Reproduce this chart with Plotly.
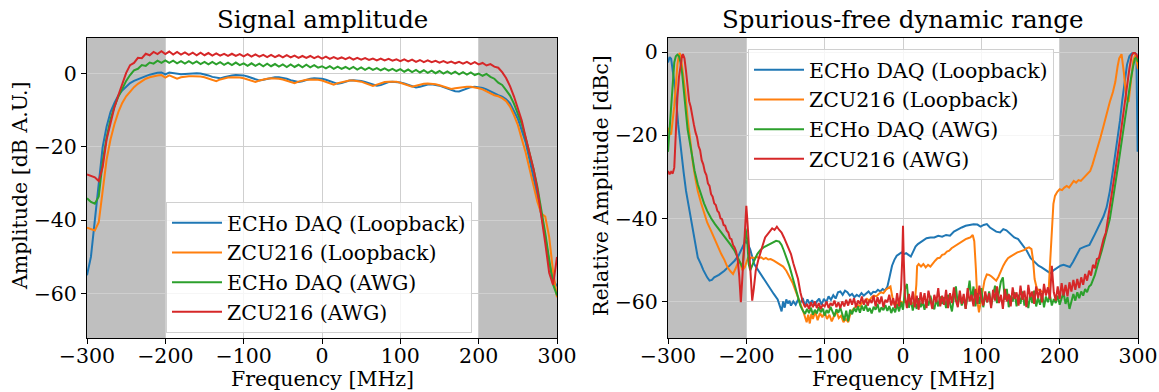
import plotly.graph_objects as go

# ---------------- Signal amplitude (left) ----------------
freq_amp = [
    -300, -295, -290, -285, -280, -275, -270, -265, -260, -255, -250, -245, -240, -235, -230, -225, -220, -215, -210, -205,
    -200, -195, -190, -185, -180, -175, -170, -165, -160, -155, -150, -145, -140, -135, -130, -125, -120, -115, -110, -105,
    -100, -95, -90, -85, -80, -75, -70, -65, -60, -55, -50, -45, -40, -35, -30, -25, -20, -15, -10, -5,
    0, 5, 10, 15, 20, 25, 30, 35, 40, 45, 50, 55, 60, 65, 70, 75, 80, 85, 90, 95,
    100, 105, 110, 115, 120, 125, 130, 135, 140, 145, 150, 155, 160, 165, 170, 175, 180, 185, 190, 195,
    200, 205, 210, 215, 220, 225, 230, 235, 240, 245, 250, 255, 260, 265, 270, 275, 280, 285, 290, 295,
    300,
]

amp_echo_loop = [
    -55, -50, -40, -29, -20, -14.5, -10.5, -8, -6, -4.6, -3.5, -2.6, -2.0, -1.5, -1.1, -0.7, -0.3, 0.0, 0.2, 0.3,
    -0.2, 0.3, 0.1, -0.1, -0.2, -0.1, 0.0, 0.1, 0.1, 0.0, -0.2, -0.5, -0.9, -1.2, -1.3, -1.0, -0.7, -0.5, -0.4, -0.4,
    -0.5, -0.8, -1.2, -1.6, -1.9, -1.7, -1.4, -1.1, -1.0, -1.0, -1.1, -1.4, -1.8, -2.1, -2.3, -2.1, -1.7, -1.4, -1.3, -1.3,
    -1.4, -1.7, -2.1, -2.5, -2.8, -2.6, -2.2, -1.9, -1.8, -1.8, -2.0, -2.3, -2.7, -3.0, -3.3, -3.1, -2.6, -2.3, -2.2, -2.2,
    -2.4, -2.7, -3.1, -3.5, -3.8, -3.6, -3.2, -3.0, -2.9, -3.0, -3.3, -3.7, -4.1, -4.5, -4.8, -4.9, -4.5, -4.0, -3.7, -3.6,
    -3.7, -3.9, -4.3, -4.9, -5.3, -5.9, -6.3, -7.0, -8.1, -10.2, -12.3, -15.5, -18.8, -23.5, -28.2, -33.0, -38.5, -44.5, -51.5, -56.2,
    -58.0,
]

amp_zcu_loop = [
    -42.0, -42.3, -42.8, -40.5, -31.5, -23.5, -18.0, -13.8, -10.5, -8.0, -6.2, -4.8, -3.7, -2.8, -2.0, -1.4, -1.0, -0.7, -0.5, -0.4,
    -1.1, -0.5, -0.9, -1.4, -1.0, -0.8, -0.7, -0.7, -0.7, -0.8, -1.0, -1.3, -1.7, -2.1, -1.6, -1.3, -1.1, -1.0, -1.0, -1.1,
    -1.3, -1.6, -2.0, -2.3, -1.9, -1.6, -1.4, -1.3, -1.3, -1.4, -1.6, -1.9, -2.3, -2.6, -2.2, -1.9, -1.7, -1.6, -1.6, -1.7,
    -1.9, -2.2, -2.6, -3.0, -2.6, -2.3, -2.1, -1.9, -1.9, -2.0, -2.2, -2.6, -3.0, -3.4, -3.0, -2.6, -2.3, -2.2, -2.1, -2.2,
    -2.5, -2.9, -3.3, -3.6, -3.3, -3.0, -2.8, -2.7, -2.7, -2.9, -3.2, -3.6, -4.0, -4.2, -4.0, -3.8, -3.7, -3.6, -3.6, -3.7,
    -4.0, -4.3, -4.9, -5.5, -5.9, -6.2, -6.7, -7.5, -9.0, -11.3, -14.0, -17.8, -21.5, -26.0, -30.5, -35.0, -38.2, -39.0, -44.5, -54.0,
    -61.0,
]

amp_echo_awg = [
    -34.0, -35.0, -35.5, -33.5, -24.0, -17.5, -12.5, -9.0, -6.3, -4.0, -2.0, -0.4, 0.9, 1.3, 2.3, 2.1, 3.0, 2.7, 3.5, 2.9,
    3.6, 2.9, 3.5, 2.8, 3.4, 2.7, 3.4, 2.7, 3.3, 2.6, 3.2, 2.5, 3.2, 2.5, 3.1, 2.4, 3.0, 2.3, 3.0, 2.3,
    2.8, 2.1, 2.8, 2.1, 2.7, 2.0, 2.7, 2.0, 2.6, 1.9, 2.5, 1.8, 2.5, 1.8, 2.4, 1.7, 2.4, 1.7, 2.3, 1.6,
    2.0, 1.4, 2.0, 1.3, 1.9, 1.3, 1.8, 1.2, 1.8, 1.1, 1.7, 1.0, 1.6, 1.0, 1.5, 0.9, 1.4, 0.8, 1.3, 0.7,
    1.2, 0.5, 1.1, 0.4, 1.0, 0.3, 0.9, 0.2, 0.8, 0.1, 0.7, 0.0, 0.6, -0.1, 0.5, -0.2, 0.4, -0.3, 0.3, -0.4,
    0.0, -0.6, -0.1, -0.9, -1.4, -2.5, -3.1, -4.5, -6.0, -8.2, -11.0, -13.7, -17.6, -21.6, -26.0, -30.9, -37.0, -43.5, -50.7, -57.5,
    -60.5,
]

amp_zcu_awg = [
    -27.5, -28.0, -28.3, -29.3, -25.5, -18.0, -13.3, -9.2, -5.9, -2.7, 0.2, 2.3, 2.9, 4.3, 4.2, 5.4, 5.0, 5.9, 5.3, 6.1,
    5.3, 6.0, 5.2, 5.9, 5.2, 5.8, 5.1, 5.7, 5.0, 5.7, 5.0, 5.6, 4.9, 5.5, 4.9, 5.4, 4.8, 5.4, 4.8, 5.3,
    4.7, 5.3, 4.6, 5.2, 4.6, 5.1, 4.5, 5.1, 4.5, 5.0, 4.4, 5.0, 4.4, 4.9, 4.3, 4.8, 4.3, 4.8, 4.2, 4.7,
    4.1, 4.6, 4.0, 4.5, 4.0, 4.4, 3.9, 4.4, 3.8, 4.3, 3.8, 4.2, 3.7, 4.1, 3.6, 4.1, 3.6, 4.0, 3.5, 3.9,
    3.4, 3.9, 3.3, 3.8, 3.2, 3.7, 3.1, 3.6, 3.1, 3.5, 3.0, 3.4, 2.9, 3.3, 2.8, 3.2, 2.7, 3.2, 2.6, 3.1,
    2.5, 2.9, 2.2, 2.6, 1.9, 1.6, 0.4, -1.2, -3.4, -6.2, -9.4, -12.8, -17.4, -21.6, -26.0, -31.6, -38.4, -46.2, -54.3, -57.6,
    -50.0,
]

# ---------------- Spurious-free dynamic range (right) ----------------
# (frequency [MHz], relative amplitude [dBc]) samples
sfdr_echo_loop = [
    (-300, -2.5), (-298, -1.2), (-296, -1.6), (-294, -4.0), (-291, -8.6), (-287, -17.4), (-283, -24.6), (-280, -29.0),
    (-277, -33.4), (-273, -37.5), (-270, -40.6), (-266, -45.5), (-262, -49.4), (-258, -51.0), (-255, -52.4), (-250, -54.2),
    (-247, -55.0), (-244, -54.8), (-241, -54.2), (-235, -53.6), (-228, -52.6), (-222, -51.5), (-215, -50.2), (-210, -49.0),
    (-207, -47.8), (-204, -46.5), (-201, -45.4), (-198, -46.2), (-195, -47.5), (-190, -51.0), (-185, -52.5), (-180, -54.0),
    (-175, -55.5), (-170, -57.0), (-165, -58.2), (-160, -59.5), (-157, -61.0), (-155, -62.4), (-153, -60.0), (-151, -61.5),
    (-149, -59.5), (-147, -60.5), (-145, -59.8), (-143, -61.0), (-140, -60.0), (-137, -60.8), (-134, -59.6), (-131, -60.4),
    (-128, -59.2), (-125, -61.2), (-122, -59.5), (-119, -60.6), (-116, -59.7), (-113, -61.0), (-110, -60.0), (-107, -59.3),
    (-104, -60.8), (-101, -59.4), (-98, -60.2), (-95, -58.8), (-92, -59.6), (-89, -58.5), (-86, -59.3), (-83, -57.8),
    (-80, -57.6), (-77, -58.4), (-74, -57.4), (-71, -57.8), (-68, -58.6), (-65, -58.2), (-62, -59.0), (-59, -58.4),
    (-56, -58.8), (-53, -58.0), (-50, -58.6), (-47, -58.1), (-44, -57.6), (-41, -58.3), (-38, -57.7), (-35, -57.8),
    (-32, -57.2), (-29, -57.6), (-26, -57.0), (-23, -57.4), (-20, -56.5), (-17, -54.0), (-14, -51.4), (-11, -50.0),
    (-8, -49.0), (-5, -48.6), (-2, -48.2), (1, -48.6), (4, -48.4), (7, -48.8), (10, -49.2), (13, -48.0),
    (16, -46.8), (19, -46.2), (22, -45.8), (26, -45.2), (30, -44.8), (35, -44.6), (40, -44.6), (45, -44.2),
    (50, -44.4), (55, -44.0), (60, -44.2), (65, -43.2), (70, -42.6), (75, -42.2), (80, -41.8), (85, -41.6),
    (90, -41.4), (95, -41.5), (99, -42.0), (103, -41.6), (107, -41.4), (111, -42.2), (115, -42.8), (119, -43.2),
    (124, -43.4), (128, -42.6), (132, -42.9), (137, -43.8), (142, -44.6), (147, -45.0), (152, -46.4), (158, -47.8),
    (163, -49.6), (168, -50.6), (173, -51.4), (177, -51.8), (182, -52.4), (188, -53.2), (193, -52.4), (197, -51.8),
    (201, -51.4), (205, -51.2), (209, -51.4), (213, -51.7), (217, -50.5), (221, -49.0), (226, -47.3), (232, -46.8),
    (238, -46.4), (245, -43.8), (251, -41.4), (256, -39.5), (260, -37.3), (264, -33.5), (268, -28.5), (272, -23.5),
    (277, -16.5), (280, -11.5), (283, -6.8), (286, -3.0), (289, -1.0), (292, -0.3), (296, -0.2), (298, -0.5),
    (299.5, -24.0),
]

sfdr_zcu_loop = [
    (-300, -18.2), (-298, -19.5), (-296, -19.8), (-294, -17.0), (-292, -13.0), (-290, -8.0), (-288, -3.0), (-286, -0.6),
    (-285, -0.2), (-283, -2.0), (-281, -4.6), (-278, -9.5), (-275, -15.8), (-272, -21.0), (-268, -27.0), (-265, -30.5),
    (-262, -33.4), (-258, -36.2), (-254, -38.6), (-250, -41.0), (-245, -43.0), (-240, -45.2), (-236, -47.0), (-232, -48.6),
    (-228, -50.0), (-224, -51.8), (-220, -52.8), (-217, -53.4), (-214, -52.2), (-211, -50.8), (-208, -50.6), (-205, -52.5),
    (-202, -51.8), (-200, -50.5), (-198, -49.5), (-196, -49.8), (-193, -49.4), (-190, -49.6), (-187, -49.2), (-184, -49.6),
    (-181, -49.4), (-178, -49.8), (-175, -49.5), (-172, -49.9), (-169, -49.8), (-165, -50.2), (-161, -50.6), (-157, -51.0),
    (-153, -51.6), (-149, -52.6), (-145, -54.0), (-141, -55.5), (-137, -57.5), (-134, -59.2), (-131, -60.6), (-128, -62.0),
    (-125, -63.6), (-123, -65.0), (-121, -63.2), (-119, -65.3), (-117, -63.0), (-115, -64.2), (-112, -62.4), (-109, -64.5),
    (-106, -62.8), (-103, -63.8), (-100, -62.6), (-97, -64.2), (-94, -63.2), (-91, -64.8), (-88, -63.5), (-85, -62.4),
    (-82, -64.0), (-79, -63.4), (-76, -65.0), (-73, -64.2), (-70, -65.0), (-67, -62.8), (-64, -62.0), (-61, -61.4),
    (-58, -60.8), (-55, -61.2), (-52, -60.2), (-49, -60.0), (-46, -59.4), (-43, -59.8), (-40, -59.0), (-37, -58.6),
    (-34, -58.8), (-31, -58.2), (-28, -57.8), (-25, -58.0), (-22, -57.2), (-19, -56.8), (-16, -56.4), (-14, -58.5),
    (-12, -60.5), (-9, -60.2), (-6, -60.8), (-3, -60.0), (0, -60.4), (3, -59.8), (6, -60.6), (9, -60.0),
    (12, -60.5), (15, -60.2), (17, -56.0), (18, -51.5), (20, -51.0), (23, -51.6), (26, -51.0), (29, -51.8),
    (32, -51.2), (35, -51.6), (38, -50.8), (41, -50.2), (44, -49.6), (47, -49.5), (50, -48.8), (53, -48.6),
    (56, -48.0), (59, -47.8), (62, -47.2), (65, -46.8), (68, -46.4), (71, -46.0), (74, -45.6), (77, -45.4),
    (80, -45.0), (83, -44.8), (86, -44.6), (89, -44.0), (91, -45.5), (93, -52.0), (95, -60.0), (97, -62.6),
    (99, -60.5), (101, -57.8), (104, -55.0), (107, -53.5), (110, -53.6), (113, -54.0), (116, -54.6), (119, -55.0),
    (122, -54.0), (125, -52.5), (128, -51.4), (131, -50.4), (134, -49.6), (137, -49.2), (140, -48.8), (143, -48.6),
    (146, -48.2), (149, -48.0), (152, -47.8), (155, -47.6), (158, -47.2), (161, -47.0), (164, -47.4), (166, -50.0),
    (168, -54.6), (171, -57.0), (175, -57.4), (179, -57.8), (183, -57.6), (186, -57.0), (188, -50.0), (190, -42.0),
    (192, -36.5), (194, -34.6), (197, -33.6), (200, -33.0), (203, -33.2), (206, -32.6), (209, -32.2), (212, -32.6),
    (215, -31.8), (218, -31.0), (221, -31.4), (224, -30.8), (227, -31.0), (230, -30.4), (233, -30.0), (236, -29.2),
    (239, -28.6), (242, -27.0), (245, -25.2), (248, -23.4), (252, -20.6), (256, -17.8), (260, -14.8), (264, -12.0),
    (268, -9.6), (271, -7.2), (274, -3.4), (276, -1.5), (279, -0.5), (282, -5.0), (285, -11.0), (288, -12.0),
    (291, -7.0), (294, -2.0), (297, -0.5), (300, -4.0),
]

sfdr_echo_awg = [
    (-300, -24.0), (-298, -18.0), (-296, -12.6), (-294, -7.0), (-292, -2.5), (-290, -1.0), (-288, -0.6), (-286, -1.0),
    (-284, -2.5), (-282, -5.0), (-280, -9.0), (-278, -13.0), (-275, -18.5), (-272, -21.8), (-269, -25.0), (-266, -28.6),
    (-262, -31.8), (-258, -34.2), (-254, -36.4), (-250, -38.2), (-245, -40.0), (-240, -41.4), (-235, -42.6), (-230, -44.0),
    (-225, -45.2), (-220, -46.4), (-215, -47.8), (-211, -49.5), (-208, -50.8), (-205, -51.8), (-203, -48.0), (-201, -42.5),
    (-199, -45.0), (-197, -51.0), (-195, -52.5), (-193, -51.5), (-190, -50.2), (-186, -48.6), (-182, -47.6), (-178, -47.0),
    (-174, -46.6), (-170, -46.2), (-166, -45.8), (-162, -45.4), (-158, -45.6), (-155, -46.4), (-152, -47.8), (-149, -49.4),
    (-145, -51.5), (-141, -54.2), (-137, -56.8), (-134, -59.0), (-131, -61.0), (-128, -62.2),
    (-125, -63.0), (-122.5, -61.8), (-120, -62.8), (-117.5, -61.5), (-115, -63.2), (-112.5, -62.0), (-110, -62.9), (-107.5, -61.4),
    (-105, -62.6), (-102.5, -61.7), (-100, -63.4), (-97.5, -62.1), (-95, -62.8), (-92.5, -61.3), (-90, -62.4), (-87.5, -63.6),
    (-85, -61.9), (-82.5, -62.7), (-80, -61.5), (-77.5, -63.0), (-75, -64.6), (-72.5, -62.2), (-70, -64.8), (-67.5, -62.0),
    (-65, -63.1), (-62.5, -61.6), (-60, -62.5), (-57.5, -61.2), (-55, -62.7), (-52.5, -61.0), (-50, -62.2), (-47.5, -60.8),
    (-45, -62.4), (-42.5, -61.6), (-40, -62.9), (-37.5, -61.3), (-35, -62.0), (-32.5, -60.6), (-30, -62.6), (-27.5, -61.4),
    (-25, -62.1), (-22.5, -60.9), (-20, -62.3), (-17.5, -61.1), (-15, -62.8), (-12.5, -61.5), (-10, -62.6), (-7.5, -60.7),
    (-5, -62.4), (-2.5, -60.2), (0, -62.0), (2.5, -57.0), (5, -55.8), (7.5, -61.5), (10, -59.6), (12.5, -62.2),
    (15, -60.0), (17.5, -61.8), (20, -59.2), (22.5, -61.4), (25, -60.1), (27.5, -62.0), (30, -59.5), (32.5, -61.0),
    (35, -58.6), (37.5, -60.8), (40, -61.9), (42.5, -59.4), (45, -61.2), (47.5, -58.8), (50, -60.6), (52.5, -59.0),
    (55, -61.6), (57.5, -58.4), (60, -60.4), (62.5, -62.4), (65, -59.0), (67.5, -56.4), (70, -60.8), (72.5, -58.2),
    (75, -61.0), (77.5, -59.2), (80, -61.8), (82.5, -57.6), (85, -55.0), (87.5, -59.8), (90, -56.4), (92.5, -61.2),
    (95, -58.0), (97.5, -60.6), (100, -56.8), (102.5, -61.4), (105, -58.4), (107.5, -60.2), (110, -57.6), (112.5, -61.0),
    (115, -58.8), (117.5, -56.2), (120, -60.4), (122.5, -58.0), (125, -55.2), (127.5, -54.2), (130, -59.6), (132.5, -57.0),
    (135, -61.4), (137.5, -58.6), (140, -60.0), (142.5, -57.8), (145, -61.2), (147.5, -58.4), (150, -60.6), (152.5, -57.6),
    (155, -61.0), (157.5, -59.0), (160, -61.6), (162.5, -58.2), (165, -60.4), (167.5, -57.4), (170, -61.2), (172.5, -59.2),
    (175, -60.8), (177.5, -58.0), (180, -61.4), (182.5, -58.8), (185, -60.2), (187.5, -58.4), (190, -61.0), (192.5, -59.4),
    (195, -60.4), (197.5, -58.6), (200, -60.8), (202.5, -59.2), (205, -58.0), (207.5, -60.6), (210, -59.0), (212.5, -61.8),
    (215, -59.6), (217.5, -58.2), (220, -59.8), (222.5, -57.8), (225, -59.2), (227.5, -57.6), (230, -58.6), (232.5, -57.0),
    (235, -57.8), (237.5, -56.4), (240, -56.0), (242.5, -54.8), (245, -53.6), (248, -51.5), (251, -49.2), (254, -47.6),
    (257, -45.4), (260, -43.2), (264, -40.2), (268, -35.4), (272, -30.8), (276, -25.6), (280, -20.4), (284, -15.0),
    (288, -10.6), (291, -6.4), (294, -3.2), (296, -1.6), (298, -1.2), (300, -2.4),
]

sfdr_zcu_awg = [
    (-300, -28.6), (-298, -29.4), (-296, -28.8), (-294, -29.2), (-292, -27.8), (-290, -19.0), (-288, -11.0), (-286, -6.0),
    (-284, -3.0), (-282, -0.8), (-281, -0.5), (-279, -1.5), (-277, -4.6), (-275, -8.5), (-273, -11.8), (-271, -13.2),
    (-269, -15.6), (-267, -17.4), (-265, -19.2), (-263, -20.4), (-261, -22.6), (-259, -23.6), (-257, -26.0), (-255, -27.0),
    (-253, -28.8), (-251, -29.6), (-249, -31.6), (-247, -32.2), (-245, -34.2), (-243, -34.8), (-241, -36.4), (-239, -36.8),
    (-237, -38.2), (-235, -38.6), (-233, -40.0), (-231, -40.2), (-229, -41.6), (-227, -41.8), (-225, -43.0), (-223, -43.4),
    (-221, -44.8), (-219, -45.0), (-217, -46.4), (-215, -47.0), (-213, -48.0), (-211, -50.0), (-209, -54.0), (-207, -60.2),
    (-205, -54.0), (-203, -48.0), (-201, -40.0), (-200, -37.0), (-198.5, -41.0), (-196.5, -48.0), (-194.5, -55.0), (-192.5, -59.8),
    (-190.5, -57.0), (-188, -52.6), (-185, -50.2), (-182, -48.0), (-179, -46.4), (-176, -44.6), (-173, -43.8), (-170, -43.2),
    (-167, -42.4), (-164, -42.8), (-161, -42.0), (-158, -42.8), (-155, -43.4), (-152, -44.6), (-149, -45.8), (-146, -47.4),
    (-143, -48.6), (-140, -50.8), (-137, -52.6), (-134, -54.6), (-131, -57.8), (-128, -60.0), (-125, -61.4),
    (-122.5, -60.6), (-120, -61.8), (-117.5, -60.2), (-115, -61.4), (-112.5, -60.0), (-110, -61.6), (-107.5, -60.4), (-105, -61.8),
    (-102.5, -60.8), (-100, -61.2), (-97.5, -60.0), (-95, -61.6), (-92.5, -60.4), (-90, -61.0), (-87.5, -59.8), (-85, -61.4),
    (-82.5, -60.2), (-80, -61.6), (-77.5, -60.0), (-75, -61.2), (-72.5, -59.6), (-70, -61.0), (-67.5, -59.4), (-65, -60.8),
    (-62.5, -59.2), (-60, -61.4), (-57.5, -59.8), (-55, -60.6), (-52.5, -58.8), (-50, -60.8), (-47.5, -59.4), (-45, -61.0),
    (-42.5, -59.6), (-40, -60.4), (-37.5, -58.6), (-35, -61.2), (-32.5, -59.0), (-30, -60.6), (-27.5, -58.8), (-25, -61.4),
    (-22.5, -59.6), (-20, -60.2), (-17.5, -58.4), (-15, -61.0), (-12.5, -59.2), (-10, -61.6), (-7.5, -58.0), (-5, -61.2),
    (-2.5, -57.0), (-1, -50.0), (0, -41.8), (1, -50.0), (2.5, -58.6), (5, -61.6), (7.5, -58.2), (10, -60.8),
    (12.5, -57.6), (15, -61.4), (17.5, -58.6), (20, -62.0), (22.5, -57.8), (25, -60.6), (27.5, -58.0), (30, -61.6),
    (32.5, -57.4), (35, -59.8), (37.5, -61.8), (40, -58.4), (42.5, -60.2), (45, -56.8), (47.5, -61.2), (50, -58.6),
    (52.5, -60.8), (55, -57.2), (57.5, -61.6), (60, -58.0), (62.5, -60.4), (65, -56.6), (67.5, -59.8), (70, -61.4),
    (72.5, -57.4), (75, -60.6), (77.5, -58.2), (80, -61.8), (82.5, -56.8), (85, -60.0), (87.5, -58.4), (90, -61.2),
    (92.5, -57.0), (95, -60.6), (97.5, -56.2), (100, -59.4), (102.5, -61.0), (105, -57.6), (107.5, -60.2), (110, -58.0),
    (112.5, -61.6), (115, -57.2), (117.5, -59.8), (120, -56.4), (122.5, -60.4), (125, -58.4), (127.5, -61.8), (130, -57.0),
    (132.5, -60.0), (135, -58.2), (137.5, -61.2), (140, -56.6), (142.5, -59.4), (145, -57.8), (147.5, -61.0), (150, -56.2),
    (152.5, -59.6), (155, -57.4), (157.5, -61.4), (160, -56.0), (162.5, -59.0), (165, -57.6), (167.5, -60.6), (170, -56.4),
    (172.5, -59.2), (175, -57.0), (177.5, -60.2), (180, -55.8), (182.5, -58.6), (185, -56.6), (187.5, -59.4), (190, -51.4),
    (192.5, -57.8), (195, -59.8), (197.5, -56.4), (200, -59.4), (202.5, -55.6), (205, -58.6), (207.5, -56.0), (210, -58.8),
    (212.5, -55.4), (215, -57.6), (217.5, -54.8), (220, -57.2), (222.5, -54.6), (225, -56.8), (227.5, -54.2), (230, -56.0),
    (232.5, -53.4), (235, -55.0), (237.5, -52.6), (240, -53.8), (242.5, -51.2), (245, -52.0), (247.5, -49.8), (250, -49.6),
    (253, -47.0), (256, -45.0), (259, -43.4), (262, -39.8), (265, -36.6), (268, -33.0), (271, -28.8), (274, -24.8),
    (277, -20.8), (280, -16.4), (283, -12.2), (286, -8.0), (289, -4.0), (292, -0.8), (294, -0.2), (296, -0.2),
    (298, -0.6), (300, -1.5),
]

series_names = ["ECHo DAQ (Loopback)", "ZCU216 (Loopback)", "ECHo DAQ (AWG)", "ZCU216 (AWG)"]
series_colors = ["#1f77b4", "#ff7f0e", "#2ca02c", "#d62728"]
x_ticks = [-300, -200, -100, 0, 100, 200, 300]
y_ticks = [-60, -40, -20, 0]

FONT = "DejaVu Serif"
FS = 20.5
FS_TITLE = 24.5
W, H = 1159, 392

fig = go.Figure()

amp_series = [amp_echo_loop, amp_zcu_loop, amp_echo_awg, amp_zcu_awg]
for name, color, vals in zip(series_names, series_colors, amp_series):
    fig.add_trace(go.Scatter(x=freq_amp, y=vals, mode="lines", name=name,
                             line=dict(color=color, width=2),
                             xaxis="x", yaxis="y", legend="legend"))

sfdr_series = [sfdr_echo_loop, sfdr_zcu_loop, sfdr_echo_awg, sfdr_zcu_awg]
for name, color, pts in zip(series_names, series_colors, sfdr_series):
    fx = [p[0] for p in pts]
    fy = [p[1] for p in pts]
    fig.add_trace(go.Scatter(x=fx, y=fy, mode="lines", name=name,
                             line=dict(color=color, width=2),
                             xaxis="x2", yaxis="y2", legend="legend2"))

# axes geometry (pixels)
L1, R1 = 87, 557
L2, R2 = 668, 1138
TOP, BOT = 38, 338
ydom = [1 - BOT / H, 1 - TOP / H]

axis_common = dict(
    showline=True, mirror=True, linecolor="black", linewidth=1,
    ticks="outside", ticklen=5, tickwidth=1, tickcolor="black",
    showgrid=True, gridcolor="#cfcfcf", gridwidth=1, zeroline=False,
    automargin=False,
    tickfont=dict(family=FONT, size=FS, color="black"),
)

legend_common = dict(
    xanchor="left", yanchor="top", itemwidth=50,
    bgcolor="rgba(255,255,255,0.8)", bordercolor="#d0d0d0", borderwidth=1,
    font=dict(family=FONT, size=FS, color="black"),
)

fig.update_layout(
    width=W, height=H,
    margin=dict(l=0, r=0, t=0, b=0, autoexpand=False),
    paper_bgcolor="white", plot_bgcolor="white",
    font=dict(family=FONT, size=FS, color="black"),
    xaxis=dict(domain=[L1 / W, R1 / W], range=[-300, 300], tickvals=x_ticks, anchor="y",
               ticklabelstandoff=-6, **axis_common),
    yaxis=dict(domain=ydom, range=[-72.1, 9.7], tickvals=y_ticks, anchor="x", **axis_common),
    xaxis2=dict(domain=[L2 / W, R2 / W], range=[-300, 300], tickvals=x_ticks, anchor="y2",
                ticklabelstandoff=-6, **axis_common),
    yaxis2=dict(domain=ydom, range=[-68.8, 3.4], tickvals=y_ticks, anchor="x2", **axis_common),
    legend=dict(x=166 / W, y=1 - 202 / H, **legend_common),
    legend2=dict(x=748 / W, y=1 - 49 / H, **legend_common),
)

# shaded out-of-band regions
for xr, yr in [("x", "y domain"), ("x2", "y2 domain")]:
    for x0, x1 in [(-300, -200), (200, 300)]:
        fig.add_shape(type="rect", xref=xr, yref=yr, x0=x0, x1=x1, y0=0, y1=1,
                      fillcolor="#bfbfbf", line=dict(width=0), layer="below")

# titles and axis labels
fig.add_annotation(text="Signal amplitude", x=(L1 + R1) / 2 / W, y=1 - 20 / H, xref="paper", yref="paper",
                   showarrow=False, xanchor="center", yanchor="middle", font=dict(family=FONT, size=FS_TITLE))
fig.add_annotation(text="Spurious-free dynamic range", x=(L2 + R2) / 2 / W, y=1 - 20 / H, xref="paper", yref="paper",
                   showarrow=False, xanchor="center", yanchor="middle", font=dict(family=FONT, size=FS_TITLE))
for cx in [(L1 + R1) / 2, (L2 + R2) / 2]:
    fig.add_annotation(text="Frequency [MHz]", x=cx / W, y=0, xref="paper", yref="paper",
                       showarrow=False, xanchor="center", yanchor="bottom", borderpad=0,
                       font=dict(family=FONT, size=FS))
fig.add_annotation(text="Amplitude [dB A.U.]", x=20 / W, y=1 - 186 / H, xref="paper", yref="paper", textangle=-90,
                   showarrow=False, xanchor="center", yanchor="middle", font=dict(family=FONT, size=FS))
fig.add_annotation(text="Relative Amplitude [dBc]", x=601 / W, y=1 - 186 / H, xref="paper", yref="paper", textangle=-90,
                   showarrow=False, xanchor="center", yanchor="middle", font=dict(family=FONT, size=FS))

fig.write_html("out.html")
